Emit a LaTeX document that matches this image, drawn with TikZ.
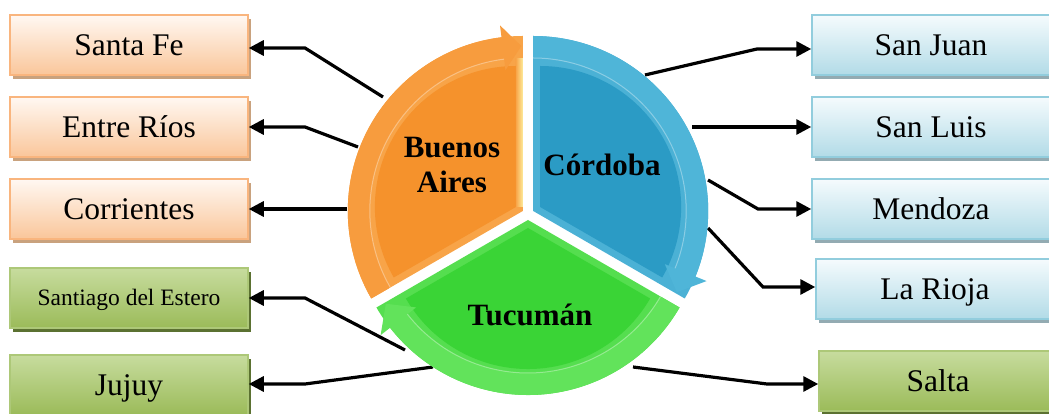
\documentclass[tikz,border=0pt]{standalone}
\usepackage{fontspec}
\setmainfont{Liberation Serif}
\usetikzlibrary{arrows.meta,shadows,calc}
\definecolor{oTop}{HTML}{FFF8F2}
\definecolor{oBot}{HTML}{FAC69A}
\definecolor{oBorder}{HTML}{F9B57E}
\definecolor{oShadow}{HTML}{C9A27E}
\definecolor{bTop}{HTML}{F5FBFD}
\definecolor{bBot}{HTML}{B2DBE7}
\definecolor{bBorder}{HTML}{92CDDD}
\definecolor{bShadow}{HTML}{93ABB2}
\definecolor{gTop}{HTML}{C7DC9E}
\definecolor{gBot}{HTML}{9BBB59}
\definecolor{gBorder}{HTML}{ADC878}
\definecolor{gShadow}{HTML}{5B7131}
\definecolor{oMain}{HTML}{F5922C}
\definecolor{oRim}{HTML}{F8A448}
\definecolor{oBand}{HTML}{F79C3E}
\definecolor{oHigh}{HTML}{FDEB9A}
\definecolor{blMain}{HTML}{2B9BC5}
\definecolor{blRim}{HTML}{4BB1D5}
\definecolor{blBand}{HTML}{4FB5D8}
\definecolor{grMain}{HTML}{3AD436}
\definecolor{grRim}{HTML}{55DE4F}
\definecolor{grBand}{HTML}{62E35B}
\begin{document}
\begin{tikzpicture}[x=1pt,y=1pt,
  box/.style={rectangle, minimum width=238pt, minimum height=60pt, inner sep=0pt,
    line width=1.5pt, text height=21pt, text depth=0pt,
    font=\fontsize{31.5}{36}\selectfont},
  obox/.style={box, draw=oBorder, top color=oTop, bottom color=oBot,
    drop shadow={shadow xshift=3pt, shadow yshift=-4pt, fill=oShadow, opacity=1}},
  bbox/.style={box, draw=bBorder, top color=bTop, bottom color=bBot,
    drop shadow={shadow xshift=3pt, shadow yshift=-4pt, fill=bShadow, opacity=1}},
  gbox/.style={box, draw=gBorder, top color=gTop, bottom color=gBot,
    drop shadow={shadow xshift=3pt, shadow yshift=-4pt, fill=gShadow, opacity=1}},
  conn/.style={line width=3.2pt, -{Triangle[length=15pt,width=15pt]}},
  lbl/.style={font=\fontsize{31}{35}\selectfont\bfseries, align=center, text=black}
]
\useasboundingbox (0,0) rectangle (1049,414);
\clip (0,0) rectangle (1049,414);

% boxes
\node[obox] (sf) at (129,369) {Santa Fe};
\node[obox] (er) at (129,287) {Entre Ríos};
\node[obox] (co) at (129,205) {Corrientes};
\node[gbox, font=\fontsize{23.5}{28}\selectfont, text height=16pt] (se) at (129,116) {Santiago del Estero};
\node[gbox] (ju) at (129,29) {Jujuy};
\node[bbox] (sj) at (931,369) {San Juan};
\node[bbox] (sl) at (931,287) {San Luis};
\node[bbox] (me) at (931,205) {Mendoza};
\node[bbox] (lr) at (935,125) {La Rioja};
\node[gbox] (sa) at (938,33) {Salta};

% connector points
\coordinate (p1) at (383,317);  \coordinate (q1) at (305,366);
\coordinate (p2) at (358,267);  \coordinate (q2) at (305,287);
\coordinate (p3) at (347,205);  \coordinate (q3) at (305,205);
\coordinate (p4) at (405,64);   \coordinate (q4) at (305,116);
\coordinate (p5) at (433,47);   \coordinate (q5) at (305,30);
\coordinate (p6) at (645,339);  \coordinate (q6) at (757,365);
\coordinate (p7) at (692,287);  \coordinate (q7) at (757,287);
\coordinate (p8) at (708,234);  \coordinate (q8) at (758,205);
\coordinate (p9) at (708,186);  \coordinate (q9) at (763,127);
\coordinate (p10) at (633,47);  \coordinate (q10) at (767,30);

\draw[conn] (p1) -- (q1) -- (q1 -| sf.east);
\draw[conn] (p2) -- (q2) -- (q2 -| er.east);
\draw[conn] (p3) -- (q3) -- (q3 -| co.east);
\draw[conn] (p4) -- (q4) -- (q4 -| se.east);
\draw[conn] (p5) -- (q5) -- (q5 -| ju.east);
\draw[conn] (p6) -- (q6) -- (q6 -| sj.west);
\draw[conn] (p7) -- (q7) -- (q7 -| sl.west);
\draw[conn] (p8) -- (q8) -- (q8 -| me.west);
\draw[conn] (p9) -- (q9) -- (q9 -| lr.west);
\draw[conn] (p10) -- (q10) -- (q10 -| sa.west);

% Buenos Aires segment
\begin{scope}[shift={(522.8,203)}]
  \fill[oRim] (0,0) -- (90:175) arc[start angle=90,end angle=210,radius=175] -- cycle;
  \begin{scope}[shift={(150:8)}]
    \fill[oMain] (0,0) -- (90:141) arc[start angle=90,end angle=210,radius=141] -- cycle;
  \end{scope}
  \shade[left color=oRim, right color=oHigh] (-7,4) rectangle (0,152);
  \fill[oBand] (210:175) arc[start angle=210,end angle=97,radius=175] -- (97:187) -- (90.5:165) -- (97:142) -- (97:153) arc[start angle=97,end angle=210,radius=153] -- cycle;
  \draw[white, opacity=.35, line width=1pt] (97:153) arc[start angle=97,end angle=210,radius=153];
\end{scope}

% Cordoba segment
\begin{scope}[shift={(533.2,203)}]
  \fill[blRim] (0,0) -- (90:175) arc[start angle=90,end angle=-30,radius=175] -- cycle;
  \begin{scope}[shift={(30:8)}]
    \fill[blMain] (0,0) -- (90:141) arc[start angle=90,end angle=-30,radius=141] -- cycle;
  \end{scope}
  \fill[blBand] (90:175) arc[start angle=90,end angle=-22,radius=175] -- (-22:187) -- (-29.5:165) -- (-22:142) -- (-22:153) arc[start angle=-22,end angle=90,radius=153] -- cycle;
  \draw[white, opacity=.35, line width=1pt] (90:153) arc[start angle=90,end angle=-22,radius=153];
\end{scope}

% Tucuman segment
\begin{scope}[shift={(528,194)}]
  \fill[grRim] (0,0) -- (210:175) arc[start angle=210,end angle=330,radius=175] -- cycle;
  \begin{scope}[shift={(270:8)}]
    \fill[grMain] (0,0) -- (210:141) arc[start angle=210,end angle=330,radius=141] -- cycle;
  \end{scope}
  \fill[grBand] (330:175) arc[start angle=330,end angle=218,radius=175] -- (218:187) -- (210.5:165) -- (218:142) -- (218:153) arc[start angle=218,end angle=330,radius=153] -- cycle;
  \draw[white, opacity=.35, line width=1pt] (218:153) arc[start angle=218,end angle=330,radius=153];
\end{scope}

\node[lbl] (ba) at (452,249) {Buenos\\Aires};
\node[lbl] (cb) at (602,249) {Córdoba};
\node[lbl] (tu) at (530,99) {Tucumán};
\end{tikzpicture}
\end{document}
